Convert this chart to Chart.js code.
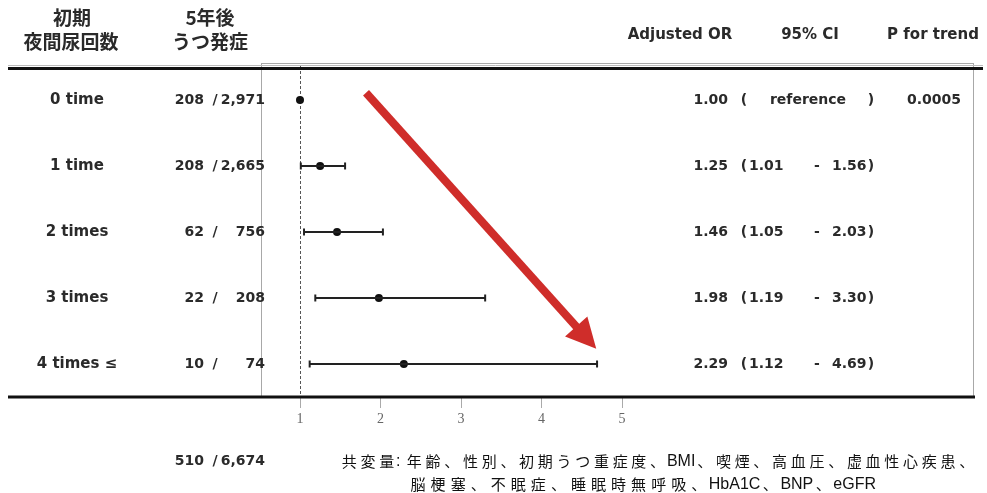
<!DOCTYPE html>
<html>
<head>
<meta charset="utf-8">
<script src="https://cdn.jsdelivr.net/npm/chart.js@4.4.1/dist/chart.umd.min.js"></script>
<style>
  html, body { margin: 0; padding: 0; background: #fff; }
  canvas { display: block; }
</style>
</head>
<body>
<canvas id="forestChart" width="987" height="493"></canvas>
<script>
// Table / chart data
const groups = ['0 time', '1 time', '2 times', '3 times', '4 times ≤'];
const cases = ['208', '208', '62', '22', '10'];
const totals = ['2,971', '2,665', '756', '208', '74'];
const oddsRatios = [1.00, 1.25, 1.46, 1.98, 2.29];
const ciLower = [null, 1.01, 1.05, 1.19, 1.12];
const ciUpper = [null, 1.56, 2.03, 3.30, 4.69];
const pTrend = ['0.0005', '', '', '', ''];
const xTicks = [1, 2, 3, 4, 5];
const totalCount = ['510', '6,674'];
const headerGroup = ['初期', '夜間尿回数'];
const headerCases = ['5年後', 'うつ発症'];
const headerRight = ['Adjusted OR', '95% CI', 'P for trend'];
const covariates = [
    '共変量: 年齢、性別、初期うつ重症度、BMI、喫煙、高血圧、虚血性心疾患、',
    '脳梗塞、不眠症、睡眠時無呼吸、HbA1C、BNP、eGFR'
];
// trend arrow in data units (x = OR, y = row index)
const arrowFrom = {x: 1.82, y: -0.11};
const arrowTo = {x: 4.68, y: 3.77};

const INK = '#2a2a2a';
const latinBold = 'bold 15px "DejaVu Sans"';
const numBold = 'bold 14px "DejaVu Sans"';
const jpBold = 'bold 19px "Noto Sans CJK JP"';
const noteCjk = '15px "Noto Sans CJK JP"';
const noteLatin = '16px "Liberation Sans"';

function txt(ctx, s, x, y, align, font, color) {
    ctx.font = font;
    ctx.textAlign = align;
    ctx.textBaseline = 'middle';
    ctx.fillStyle = color || INK;
    ctx.fillText(s, x, y);
}

// CJK characters get a wide fixed cell, latin keeps its own width
function noteLine(ctx, s, left, y, width) {
    ctx.save();
    ctx.textBaseline = 'middle';
    ctx.fillStyle = '#111';
    const chars = [...s];
    const isWide = c => c.charCodeAt(0) > 0x2e7f;
    let latinW = 0, wideN = 0;
    ctx.font = noteLatin;
    chars.forEach(c => { if (isWide(c)) wideN++; else latinW += ctx.measureText(c).width; });
    const cell = (width - latinW) / wideN;
    let px = left;
    chars.forEach(c => {
        if (isWide(c)) {
            ctx.font = noteCjk;
            ctx.textAlign = 'center';
            ctx.fillText(c, px + cell / 2, y);
            px += cell;
        } else {
            ctx.font = noteLatin;
            ctx.textAlign = 'left';
            ctx.fillText(c, px, y + 1);
            px += ctx.measureText(c).width;
        }
    });
    ctx.restore();
}

const decor = {
    id: 'decor',
    beforeDatasetsDraw(chart) {
        const {ctx, chartArea: a, scales: {x}} = chart;
        ctx.save();
        // thin frame round the plot
        ctx.strokeStyle = '#a8a8a8';
        ctx.lineWidth = 1;
        ctx.strokeRect(a.left + 0.5, a.top + 0.5, a.right - a.left, a.bottom - a.top);
        // reference line at OR = 1
        const x1 = Math.round(x.getPixelForValue(1)) + 0.5;
        ctx.strokeStyle = '#555';
        ctx.setLineDash([3, 2]);
        ctx.beginPath();
        ctx.moveTo(x1, a.top + 3);
        ctx.lineTo(x1, a.bottom);
        ctx.stroke();
        ctx.restore();
    },
    afterDraw(chart) {
        const {ctx, chartArea: a, scales: {x, y}} = chart;
        ctx.save();

        // heavy rules
        ctx.strokeStyle = '#bbb';
        ctx.lineWidth = 1;
        ctx.beginPath();
        ctx.moveTo(8, 65.5); ctx.lineTo(983, 65.5);
        ctx.stroke();
        ctx.strokeStyle = '#111';
        ctx.lineWidth = 3;
        ctx.beginPath();
        ctx.moveTo(8, 68.5); ctx.lineTo(983, 68.5);
        ctx.moveTo(8, a.bottom); ctx.lineTo(975, a.bottom);
        ctx.stroke();

        // trend arrow
        const sx = x.getPixelForValue(arrowFrom.x), sy = y.getPixelForValue(arrowFrom.y);
        const ex = x.getPixelForValue(arrowTo.x), ey = y.getPixelForValue(arrowTo.y);
        const len = Math.hypot(ex - sx, ey - sy);
        const ux = (ex - sx) / len, uy = (ey - sy) / len;
        const headL = 30, headW = 15;
        const bx = ex - ux * headL, by = ey - uy * headL;
        ctx.strokeStyle = '#cf2d2a';
        ctx.fillStyle = '#cf2d2a';
        ctx.lineWidth = 8;
        ctx.beginPath();
        ctx.moveTo(sx, sy); ctx.lineTo(bx + ux * 2, by + uy * 2);
        ctx.stroke();
        ctx.beginPath();
        ctx.moveTo(ex, ey);
        ctx.lineTo(bx - uy * headW, by + ux * headW);
        ctx.lineTo(bx + uy * headW, by - ux * headW);
        ctx.closePath();
        ctx.fill();

        // headers
        txt(ctx, headerGroup[0], 72, 18, 'center', jpBold);
        txt(ctx, headerGroup[1], 71, 42, 'center', jpBold);
        txt(ctx, headerCases[0], 210, 18, 'center', jpBold);
        txt(ctx, headerCases[1], 210, 42, 'center', jpBold);
        txt(ctx, headerRight[0], 680, 35, 'center', latinBold);
        txt(ctx, headerRight[1], 810, 35, 'center', latinBold);
        txt(ctx, headerRight[2], 933, 35, 'center', latinBold);

        // rows
        groups.forEach((g, i) => {
            const py = y.getPixelForValue(i);
            txt(ctx, g, 77, py, 'center', latinBold);
            txt(ctx, cases[i], 204, py, 'right', numBold);
            txt(ctx, '/', 215, py, 'center', numBold);
            txt(ctx, totals[i], 265, py, 'right', numBold);
            txt(ctx, oddsRatios[i].toFixed(2), 728, py, 'right', numBold);
            txt(ctx, '(', 744, py, 'center', numBold);
            txt(ctx, ')', 871, py, 'center', numBold);
            if (ciLower[i] == null) {
                txt(ctx, 'reference', 808, py, 'center', numBold);
            } else {
                txt(ctx, ciLower[i].toFixed(2), 749, py, 'left', numBold);
                txt(ctx, '-', 817, py, 'center', numBold);
                txt(ctx, ciUpper[i].toFixed(2), 832, py, 'left', numBold);
            }
            if (pTrend[i]) txt(ctx, pTrend[i], 907, py, 'left', numBold);
        });

        // total
        txt(ctx, totalCount[0], 204, 461, 'right', numBold);
        txt(ctx, '/', 215, 461, 'center', numBold);
        txt(ctx, totalCount[1], 265, 461, 'right', numBold);

        // covariate note
        noteLine(ctx, covariates[0], 340, 461, 636);
        noteLine(ctx, covariates[1], 408, 484, 468);

        ctx.restore();
    }
};

const ciSets = [];
oddsRatios.forEach((v, i) => {
    if (ciLower[i] == null) return;
    ciSets.push({
        type: 'line',
        data: [{x: ciLower[i], y: i}, {x: ciUpper[i], y: i}],
        borderColor: '#222',
        borderWidth: 2,
        pointStyle: 'line',
        rotation: 90,
        pointRadius: 3.5,
        pointBorderWidth: 2,
        pointBorderColor: '#222',
        fill: false
    });
});

new Chart(document.getElementById('forestChart'), {
    type: 'scatter',
    data: {
        datasets: [
            ...ciSets,
            {
                data: oddsRatios.map((v, i) => ({x: v, y: i})),
                pointRadius: 4,
                pointBackgroundColor: '#111',
                pointBorderColor: '#111',
                pointBorderWidth: 0
            }
        ]
    },
    options: {
        responsive: false,
        animation: false,
        layout: {padding: {left: 261, right: 14, top: 63, bottom: 61}},
        plugins: {legend: {display: false}, tooltip: {enabled: false}},
        scales: {
            x: {
                type: 'linear',
                min: 0.5155,
                max: 9.36,
                afterBuildTicks: axis => { axis.ticks = xTicks.map(v => ({value: v})); },
                afterFit: axis => { axis.height = 35; },
                border: {display: false},
                grid: {drawOnChartArea: false, drawTicks: true, tickLength: 11, color: '#aaa'},
                ticks: {
                    autoSkip: false,
                    maxRotation: 0,
                    padding: 3,
                    color: '#666',
                    font: {family: 'Liberation Serif', size: 14}
                }
            },
            y: {
                type: 'linear',
                reverse: true,
                min: -0.56,
                max: 4.5,
                display: false
            }
        }
    },
    plugins: [decor]
});
</script>
</body>
</html>
